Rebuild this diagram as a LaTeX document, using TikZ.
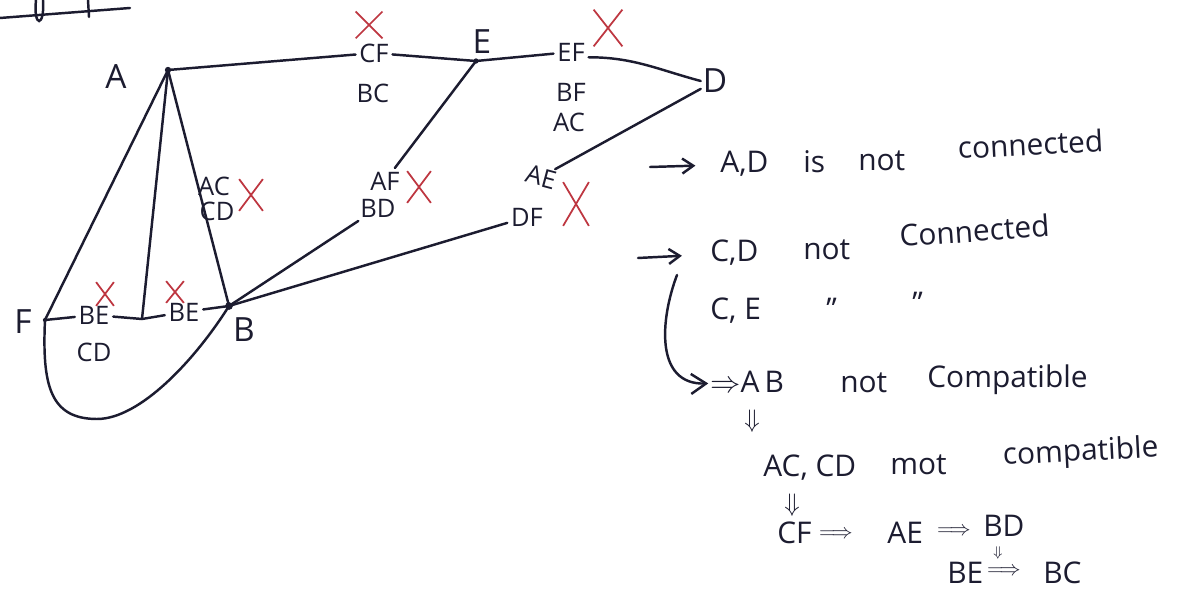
\documentclass[tikz,border=0pt]{standalone}
\usepackage{fontspec}
\setmainfont{Open Sans}
\usepackage{amsmath}
\usetikzlibrary{arrows.meta, shapes.misc, positioning}
\definecolor{ink}{RGB}{28,28,48}
\definecolor{xred}{RGB}{190,55,65}

\begin{document}
\begin{tikzpicture}[
    x=0.02cm, y=-0.02cm,
    >={Straight Barb[length=2.2mm, width=3mm]},
    every node/.style={text=ink},
    pen/.style={ink, line width=1.4pt, line cap=round},
    vlabel/.style={font=\fontsize{19}{21}\selectfont, inner sep=1pt},
    elabel/.style={font=\fontsize{14.5}{16}\selectfont, inner sep=2pt},
    note/.style={font=\fontsize{17}{19}\selectfont, anchor=base west, inner sep=0pt},
    sym/.style={font=\fontsize{15}{17}\selectfont, inner sep=0pt},
    impl/.style={font=\fontsize{13}{15}\selectfont, inner sep=0pt},
    xmark/.style={cross out, draw=xred, line width=1pt, inner sep=0pt},
]
\useasboundingbox (0,0) rectangle (1183,607);
% cut-off heading at the top edge
\draw[pen] (0,18) -- (130,8);
\draw[pen] (36,0) .. controls (33,28) and (45,28) .. (43,0);
\draw[pen] (88,0) -- (89,17);
% vertices
\coordinate (a) at (168,70);
\coordinate (b) at (229,306);
\coordinate (e) at (476,61);
\coordinate (f) at (45,320);
\coordinate (j) at (142,319);
\node[vlabel] (lA) at (116,77) {A};
\node[vlabel] (lB) at (244,330) {B};
\node[vlabel] (lE) at (482,42) {E};
\node[vlabel] (lF) at (23,322) {F};
\node[vlabel] (d) at (715,81) {D};
% edge labels
\node[elabel] (lCF) at (374,53) {CF};
\node[elabel] (lBC) at (373,93) {BC};
\node[elabel] (lEF) at (571,52) {EF};
\node[elabel] (lBF) at (571,92) {BF};
\node[elabel] (lAC2) at (569,122) {AC};
\node[elabel] (lAF) at (385,181) {AF};
\node[elabel] (lBD) at (378,208) {BD};
\node[elabel, rotate=-15, inner sep=1pt] (lAE) at (541,177) {AE};
\node[elabel] (lDF) at (527,217) {DF};
\node[elabel] (lAC) at (214,186) {AC};
\node[elabel] (lCD) at (217,211) {CD};
\node[elabel] (lBE1) at (94,315) {BE};
\node[elabel] (lCD2) at (94,352) {CD};
\node[elabel] (lBE2) at (184,312) {BE};
% edges
\draw[pen] (a) -- (lCF);
\draw[pen] (lCF) -- (e) -- (lEF);
\draw[pen] ([yshift=-3pt]lEF.east) to[out=0, in=165] (d.west);
\draw[pen] (d) -- (lAE);
\draw[pen] (e) -- (lAF);
\draw[pen] (b) -- (lBD);
\draw[pen] (b) -- (lDF);
\draw[pen] (a) -- (f);
\draw[pen] (a) -- (j);
\draw[pen] (a) -- (b);
\draw[pen] (f) -- (lBE1) -- (j) -- (lBE2) -- (b);
\draw[pen] (f) .. controls (42,385) and (50,419) .. (97,419)
    .. controls (140,419) and (195,360) .. (b);
\fill[ink] (a) circle (1.8pt);
\fill[ink] (b) circle (2.2pt);
\fill[ink] (e) circle (1.5pt);
\fill[ink] (f) circle (1.2pt);
% crossed out
\node[xmark, minimum width=0.5cm, minimum height=0.5cm] (xCF) at (369,25) {};
\node[xmark, minimum width=0.54cm, minimum height=0.7cm] (xEF) at (608,28) {};
\node[xmark, minimum width=0.44cm, minimum height=0.6cm] (xAF) at (419,187) {};
\node[xmark, minimum width=0.48cm, minimum height=0.84cm] (xAE) at (576,204) {};
\node[xmark, minimum width=0.44cm, minimum height=0.6cm] (xAC) at (251,195) {};
\node[xmark, minimum width=0.32cm, minimum height=0.44cm] (xBE1) at (105,294) {};
\node[xmark, minimum width=0.32cm, minimum height=0.4cm] (xBE2) at (175,292) {};
% notes on the right
\coordinate (r1) at (650,167);
\node[note] (tAD) at (720,173) {A,D};
\node[note] (tis) at (803,173) {is};
\node[note] (tnot1) at (858,171) {not};
\node[note, rotate=3] (tcon1) at (958,159) {connected};
\draw[pen, ->, shorten >=14pt] (r1) -- (tAD);
\coordinate (r2) at (638,258);
\node[note] (tCD) at (710,262) {C,D};
\node[note] (tnot2) at (803,260) {not};
\node[note, rotate=4] (tcon2) at (900,247) {Connected};
\draw[pen, ->, shorten >=16pt] (r2) -- (tCD);
\node[note] (tCE) at (710,320) {C, E};
\node[note] (dit1) at (826,320) {''};
\node[note] (dit2) at (912,314) {''};
\coordinate (brk) at (677,275);
\node[note] (tAB) at (710,393) {$\Rightarrow$A\,B};
\draw[pen, -{Straight Barb[length=3mm, width=4mm]}, shorten >=1pt]
    (brk) .. controls (660,320) and (655,385) .. (tAB);
\node[note] (tnot3) at (840,393) {not};
\node[note] (tcomp1) at (927,388) {Compatible};
\node[sym] (dn1) at (752,421) {$\Downarrow$};
\node[note] (tACCD) at (763,477) {AC, CD};
\node[note] (tmot) at (890,475) {mot};
\node[note, rotate=3] (tcomp2) at (1003,465) {compatible};
\node[sym] (dn2) at (792,505) {$\Downarrow$};
\node[note] (tCF) at (777,543) {CF};
\node[impl] (im1) at (836,535) {$\Longrightarrow$};
\node[note] (tAE) at (887,543) {AE};
\node[impl] (im2) at (954,532) {$\Longrightarrow$};
\node[note] (tBD) at (983,537) {BD};
\node[sym, font=\fontsize{8}{10}\selectfont] (dn3) at (998,553) {$\Downarrow$};
\node[note] (tBE) at (947,583) {BE};
\node[impl] (im3) at (1004,572) {$\Longrightarrow$};
\node[note] (tBC) at (1043,583) {BC};
\end{tikzpicture}
\end{document}
